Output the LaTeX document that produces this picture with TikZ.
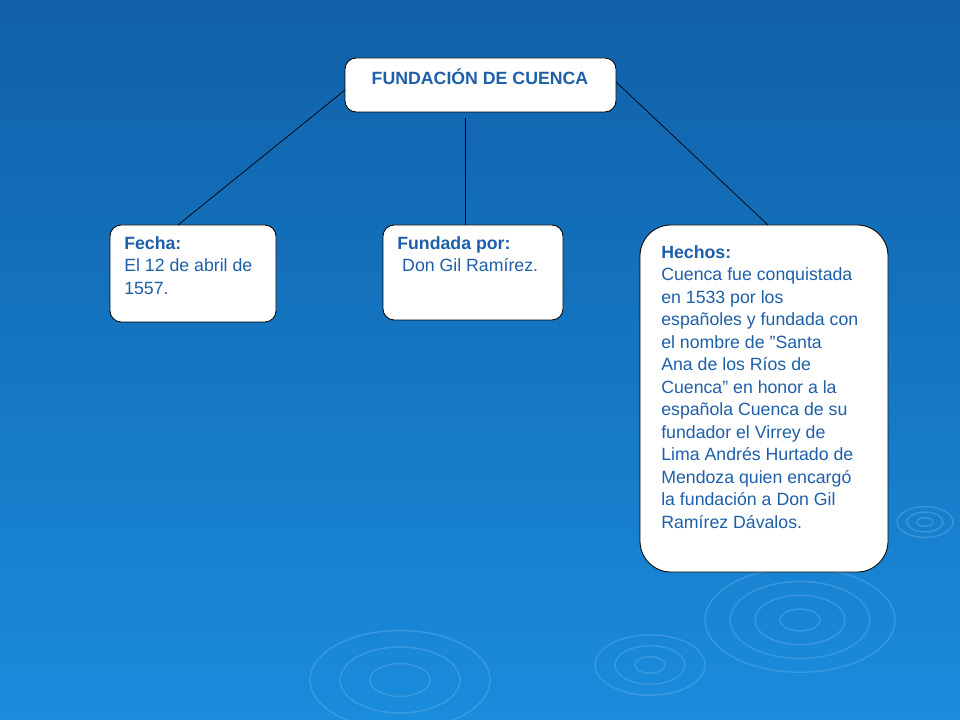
\documentclass[tikz,border=0pt]{standalone}
\usepackage{fontspec}
\setmainfont{Liberation Sans}
\usetikzlibrary{positioning}
\definecolor{bgtop}{RGB}{16,96,168}
\definecolor{bgbot}{RGB}{26,140,220}
\definecolor{txtblue}{RGB}{30,95,170}
\definecolor{ripple}{RGB}{90,170,230}
\newcommand{\dq}{\symbol{34}}
\begin{document}
\begin{tikzpicture}[x=0.025cm,y=-0.025cm,
    box/.style={draw=black,fill=white,rounded corners=8pt,line width=0.6pt},
    info/.style={anchor=north west,align=left,text=txtblue,inner sep=0pt,
        font=\fontsize{12.6}{16}\selectfont},
    link/.style={draw=black,line width=0.5pt}]
        % background
        \shade[top color=bgtop,bottom color=bgbot] (0,0) rectangle (960,720);
        \useasboundingbox (0,0) rectangle (960,720);
        % ripples
        \foreach \cx/\cy/\r in {800/620/20,800/620/45,800/620/70,800/620/95,
                               650/665/15,650/665/35,650/665/55,
                               400/680/30,400/680/60,400/680/90,
                               925/522/8,925/522/18,925/522/28}
            \draw[ripple,opacity=0.5,line width=1pt] (\cx,\cy) ellipse ({\r} and {0.55*\r});

        % title
        \draw[box] (345,58) rectangle (616,112);
        \node[font=\fontsize{12.6}{14}\selectfont\bfseries,text=txtblue] (title) at (480,77) {FUNDACIÓN DE CUENCA};
        \coordinate (tl) at (345,90);
        \coordinate (tc) at (465,118);
        \coordinate (tr) at (616,82);

        % fecha
        \draw[box] (110,225) rectangle (276,322);
        \node[info] (fecha) at (124,236) {\textbf{Fecha:}\\El 12 de abril de\\1557.};
        \coordinate (fl) at (178,225);

        % fundada
        \draw[box] (383,225) rectangle (563,320);
        \node[info] (fund) at (397,236) {\textbf{Fundada por:}\\\ Don Gil Ramírez.};
        \coordinate (fc) at (465,225);

        % hechos
        \draw[box,rounded corners=22pt] (640,225) rectangle (888,572);
        \node[info] (hechos) at (661,245) {\textbf{Hechos:}\\Cuenca fue conquistada\\en 1533 por los\\españoles y fundada con\\el nombre de \dq Santa\\Ana de los Ríos de\\Cuenca\dq{} en honor a la\\española Cuenca de su\\fundador el Virrey de\\Lima Andrés Hurtado de\\Mendoza quien encargó\\la fundación a Don Gil\\Ramírez Dávalos.};
        \coordinate (hr) at (768,225);

        % connectors
        \draw[link] (tl) -- (fl);
        \draw[link] (tc) -- (fc);
        \draw[link] (tr) -- (hr);
\end{tikzpicture}
\end{document}
